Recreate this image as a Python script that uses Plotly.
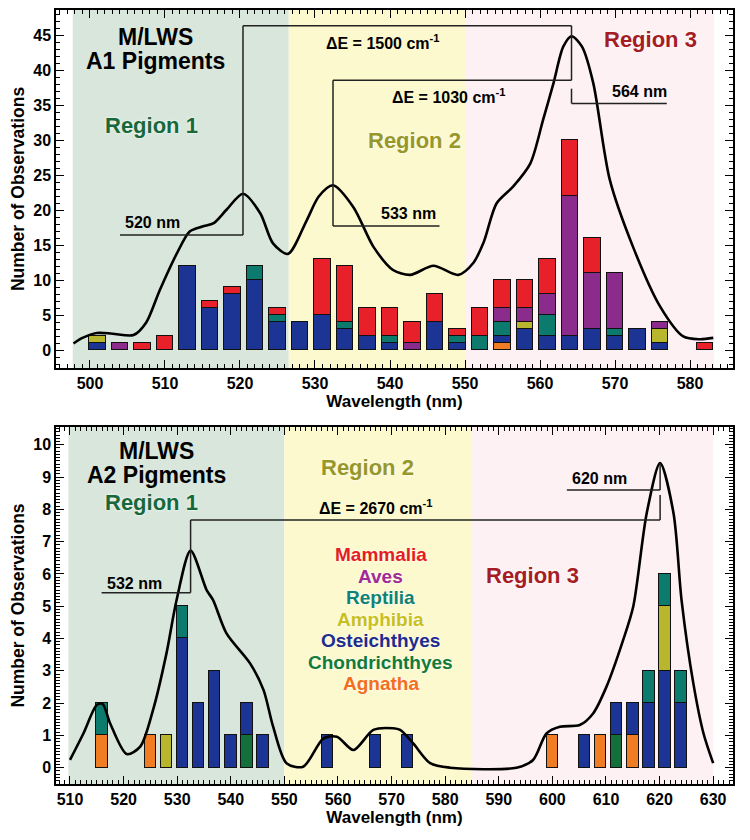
import plotly.graph_objects as go

# stacking order, bottom -> top
CLASSES = ["Agnatha", "Chondrichthyes", "Osteichthyes", "Amphibia", "Reptilia", "Aves", "Mammalia"]
BAR_COLORS = {
    "Mammalia": "#e8202a",
    "Aves": "#8b2c8c",
    "Reptilia": "#0d7a6e",
    "Amphibia": "#b7b62c",
    "Osteichthyes": "#1c3594",
    "Chondrichthyes": "#14703b",
    "Agnatha": "#f07c24",
}
TEXT_COLORS = {
    "Mammalia": "#e31e24",
    "Aves": "#a02a96",
    "Reptilia": "#0f8275",
    "Amphibia": "#c9bf1e",
    "Osteichthyes": "#1e2d8c",
    "Chondrichthyes": "#127a3a",
    "Agnatha": "#f26f21",
}
LEGEND_ORDER = ["Mammalia", "Aves", "Reptilia", "Amphibia", "Osteichthyes", "Chondrichthyes", "Agnatha"]

# ---- A1 pigments (top panel) ----
A1_WL = [501, 504, 507, 510, 513, 516, 519, 522, 525, 528, 531, 534, 537, 540,
         543, 546, 549, 552, 555, 558, 561, 564, 567, 570, 573, 576, 582]
A1_COUNTS = {
    "Agnatha":        [0, 0, 0, 0, 0, 0, 0, 0, 0, 0, 0, 0, 0, 0, 0, 0, 0, 0, 1, 0, 0, 0, 0, 0, 0, 0, 0],
    "Chondrichthyes": [0, 0, 0, 0, 0, 0, 0, 0, 0, 0, 0, 0, 0, 0, 0, 0, 0, 0, 0, 0, 0, 0, 0, 0, 0, 0, 0],
    "Osteichthyes":   [1, 0, 0, 0, 12, 6, 8, 10, 4, 4, 5, 3, 2, 1, 0, 4, 1, 0, 1, 3, 2, 2, 3, 2, 3, 1, 0],
    "Amphibia":       [1, 0, 0, 0, 0, 0, 0, 0, 0, 0, 0, 0, 0, 0, 0, 0, 0, 0, 0, 1, 0, 0, 0, 0, 0, 2, 0],
    "Reptilia":       [0, 0, 0, 0, 0, 0, 0, 2, 1, 0, 0, 1, 0, 1, 0, 0, 1, 2, 2, 0, 3, 0, 0, 1, 0, 0, 0],
    "Aves":           [0, 1, 0, 0, 0, 0, 0, 0, 0, 0, 0, 0, 0, 0, 1, 0, 0, 0, 2, 2, 3, 20, 8, 8, 0, 1, 0],
    "Mammalia":       [0, 0, 1, 2, 0, 1, 1, 0, 1, 0, 8, 8, 4, 4, 3, 4, 1, 4, 4, 4, 5, 8, 5, 0, 0, 0, 1],
}
A1_CURVE_WL = [497.8, 499.0, 500.9, 503.0, 505.8, 507.5, 509.3, 511.6, 513.3, 515.0, 516.5,
               518.2, 520.4, 522.7, 524.4, 526.4, 528.9, 530.5, 532.4, 535.1, 537.8, 540.4,
               542.7, 545.8, 549.1, 551.1, 552.5, 554.2, 556.4, 558.7, 560.4, 561.8, 563.1,
               564.2, 565.6, 567.1, 569.3, 572.4, 576.0, 579.1, 581.3, 583.1]
A1_CURVE_N = [1.0, 1.8, 2.5, 2.4, 2.2, 4.0, 8.6, 13.9, 17.0, 17.7, 18.2,
              20.1, 22.4, 19.6, 15.3, 13.8, 18.6, 22.0, 23.6, 20.5, 14.8, 11.5,
              10.8, 12.1, 10.8, 12.5, 15.5, 21.0, 23.4, 26.7, 32.9, 38.2, 43.4,
              44.9, 43.4, 38.2, 24.4, 14.8, 6.3, 2.0, 1.6, 1.8]
A1_REGIONS = [497.7, 526.5, 550.0, 583.2]
A1_PEAKS = [520.4, 532.4, 564.2]

# ---- A2 pigments (bottom panel) ----
A2_WL = [516, 525, 528, 531, 534, 537, 540, 543, 546, 558, 567, 573,
         600, 606, 609, 612, 615, 618, 621, 624]
A2_COUNTS = {
    "Agnatha":        [1, 1, 0, 0, 0, 0, 0, 0, 0, 0, 0, 0, 1, 0, 1, 0, 1, 0, 0, 0],
    "Chondrichthyes": [0, 0, 0, 0, 0, 0, 0, 1, 0, 0, 0, 0, 0, 0, 0, 1, 0, 0, 0, 0],
    "Osteichthyes":   [0, 0, 0, 4, 2, 3, 1, 1, 1, 1, 1, 1, 0, 1, 0, 1, 1, 2, 3, 2],
    "Amphibia":       [0, 0, 1, 0, 0, 0, 0, 0, 0, 0, 0, 0, 0, 0, 0, 0, 0, 0, 2, 0],
    "Reptilia":       [1, 0, 0, 1, 0, 0, 0, 0, 0, 0, 0, 0, 0, 0, 0, 0, 0, 1, 1, 1],
    "Aves":           [0] * 20,
    "Mammalia":       [0] * 20,
}
A2_CURVE_WL = [510.0, 512.5, 515.0, 516.1, 517.5, 520.6, 523.1, 525.5, 528.0, 529.9,
               532.5, 535.5, 536.7, 539.2, 543.6, 546.1, 547.9, 550.4, 553.5, 557.3,
               559.8, 562.9, 566.6, 570.3, 571.6, 574.0, 577.2, 580.9, 593.3, 596.4,
               598.9, 601.4, 605.1, 607.6, 610.1, 613.2, 615.1, 617.6, 620.1, 622.6,
               624.1, 626.3, 628.2, 630.0]
A2_CURVE_N = [0.24, 1.06, 1.94, 1.97, 1.37, 0.42, 0.65, 1.79, 3.54, 5.2,
              6.72, 5.5, 5.19, 4.16, 3.23, 2.41, 1.27, 0.14, 0.03, 0.91,
              0.96, 0.55, 1.17, 1.22, 1.17, 0.76, 0.14, 0.0, 0.0, 0.24,
              1.06, 1.27, 1.32, 1.68, 2.51, 3.95, 5.0, 7.88, 9.43, 7.88,
              5.19, 2.61, 1.06, 0.14]
A2_REGIONS = [509.7, 550.0, 585.0, 630.0]
A2_PEAKS = [532.5, 620.1]

FONT = "Liberation Sans, Arial, Helvetica, sans-serif"
REGION_SHADES = ["#d8e6dc", "#fcf9cf", "#fdf1f4"]

fig = go.Figure()


def add_panel(wl, counts, cwl, cn, xa, ya):
    for cls in CLASSES:
        fig.add_trace(go.Bar(
            x=wl, y=counts[cls], width=2.15, name=cls,
            marker=dict(color=BAR_COLORS[cls], line=dict(color="#111", width=1)),
            xaxis=xa, yaxis=ya, showlegend=False,
        ))
    fig.add_trace(go.Scatter(
        x=cwl, y=cn, mode="lines", line=dict(color="black", width=2.6, shape="spline", smoothing=0.8),
        xaxis=xa, yaxis=ya, showlegend=False, hoverinfo="skip",
    ))


add_panel(A1_WL, A1_COUNTS, A1_CURVE_WL, A1_CURVE_N, "x", "y")
add_panel(A2_WL, A2_COUNTS, A2_CURVE_WL, A2_CURVE_N, "x2", "y2")

shapes = []
for bounds, xr, yr in [(A1_REGIONS, "x", "y domain"), (A2_REGIONS, "x2", "y2 domain")]:
    for i, col in enumerate(REGION_SHADES):
        shapes.append(dict(type="rect", xref=xr, yref=yr, x0=bounds[i], x1=bounds[i + 1], y0=0, y1=1,
                           fillcolor=col, line=dict(width=0), layer="below"))


def seg(xr, yr, x0, y0, x1, y1):
    shapes.append(dict(type="line", xref=xr, yref=yr, x0=x0, y0=y0, x1=x1, y1=y1,
                       line=dict(color="#222", width=1.5)))


p520, p533, p564 = A1_PEAKS
seg("x", "y", p520, 46.4, p520, 16.5)
seg("x", "y", 504.0, 16.5, p520, 16.5)
seg("x", "y", p520, 46.4, p564, 46.4)
seg("x", "y", p564, 46.4, p564, 38.6)
seg("x", "y", p533, 38.6, p564, 38.6)
seg("x", "y", p533, 38.6, p533, 17.8)
seg("x", "y", p533, 17.8, 546.6, 17.8)
seg("x", "y", p564, 37.4, p564, 35.3)
seg("x", "y", p564, 35.3, 576.9, 35.3)

p532, p620 = A2_PEAKS
seg("x2", "y2", p532, 7.67, p620, 7.67)
seg("x2", "y2", p532, 7.67, p532, 5.42)
seg("x2", "y2", 515.9, 5.42, p532, 5.42)
seg("x2", "y2", p620, 7.67, p620, 8.44)
seg("x2", "y2", p620, 8.6, p620, 9.43)
seg("x2", "y2", 602.7, 8.6, p620, 8.6)

ann = []


def label(xr, yr, x, y, text, size=16, color="black", glow=False):
    f = dict(family=FONT, size=size, color=color, weight="bold")
    if glow:
        f["shadow"] = "0px 0px 3px white"
    ann.append(dict(xref=xr, yref=yr, x=x, y=y, text=text, showarrow=False, font=f,
                    xanchor="center", yanchor="middle"))


# top panel text
label("x", "y", 508.7, 44.8, "M/LWS", size=23)
label("x", "y", 508.7, 41.3, "A1 Pigments", size=23)
label("x", "y", 508.2, 32.2, "Region 1", size=22, color="#17683a", glow=True)
label("x", "y", 543.3, 30.0, "Region 2", size=22, color="#97972a", glow=True)
label("x", "y", 574.7, 44.4, "Region 3", size=22, color="#a51c24", glow=True)
label("x", "y", 539.1, 44.1, "ΔE = 1500 cm<sup>-1</sup>", size=16)
label("x", "y", 547.9, 36.3, "ΔE = 1030 cm<sup>-1</sup>", size=16)
label("x", "y", 508.4, 18.3, "520 nm", size=16)
label("x", "y", 542.4, 19.6, "533 nm", size=16)
label("x", "y", 573.2, 37.0, "564 nm", size=16)

# bottom panel text
label("x2", "y2", 526.2, 9.82, "M/LWS", size=23)
label("x2", "y2", 526.2, 9.06, "A2 Pigments", size=23)
label("x2", "y2", 525.2, 8.2, "Region 1", size=22, color="#17683a", glow=True)
label("x2", "y2", 565.5, 9.3, "Region 2", size=22, color="#97972a", glow=True)
label("x2", "y2", 596.2, 5.94, "Region 3", size=22, color="#a51c24", glow=True)
label("x2", "y2", 567.1, 8.08, "ΔE = 2670 cm<sup>-1</sup>", size=16)
label("x2", "y2", 522.1, 5.69, "532 nm", size=16)
label("x2", "y2", 608.7, 8.94, "620 nm", size=16)
for i, cls in enumerate(LEGEND_ORDER):
    label("x2", "y2", 568.0, 6.6 - 0.668 * i, cls, size=19, color=TEXT_COLORS[cls], glow=True)


def xaxis(rng, anchor):
    return dict(range=rng, anchor=anchor, domain=[0, 1], showgrid=False, zeroline=False,
                automargin=False,
                showline=True, linecolor="black", linewidth=1.5, mirror="ticks",
                ticks="inside", ticklen=8, tickwidth=1.3, tickcolor="black", dtick=10,
                minor=dict(ticks="inside", ticklen=4, dtick=1, tickcolor="black", tickwidth=1),
                tickfont=dict(family=FONT, size=16, color="black", weight="bold"),
                title=dict(text="Wavelength (nm)", standoff=4,
                           font=dict(family=FONT, size=17, color="black", weight="bold")))


def yaxis(rng, dom, anchor, dt, mdt):
    return dict(range=rng, anchor=anchor, domain=dom, showgrid=False, zeroline=False,
                automargin=False,
                showline=True, linecolor="black", linewidth=1.5, mirror="ticks",
                ticks="inside", ticklen=8, tickwidth=1.3, tickcolor="black", dtick=dt,
                minor=dict(ticks="inside", ticklen=4, dtick=mdt, tickcolor="black", tickwidth=1),
                tickfont=dict(family=FONT, size=16, color="black", weight="bold"),
                title=dict(text="Number of Observations", standoff=4,
                           font=dict(family=FONT, size=17.5, color="black", weight="bold")))


fig.update_layout(
    width=750, height=840,
    margin=dict(l=56, r=17, t=10, b=56),
    paper_bgcolor="white", plot_bgcolor="white",
    barmode="stack", bargap=0,
    showlegend=False,
    xaxis=xaxis([495.47, 585.73], "y"),
    yaxis=yaxis([-2.5, 48.64], [0.5375, 1.0], "x", 5, 1),
    xaxis2=xaxis([507.39, 633.7], "y2"),
    yaxis2=yaxis([-0.505, 10.548], [0.0, 0.4612], "x2", 1, 0.1),
    shapes=shapes,
    annotations=ann,
)

# drop the browser's default 8px body margin so the figure sits at the page corner
fig.write_html("out.html", config={"displayModeBar": False},
               post_script="document.body.style.margin='0px';")
